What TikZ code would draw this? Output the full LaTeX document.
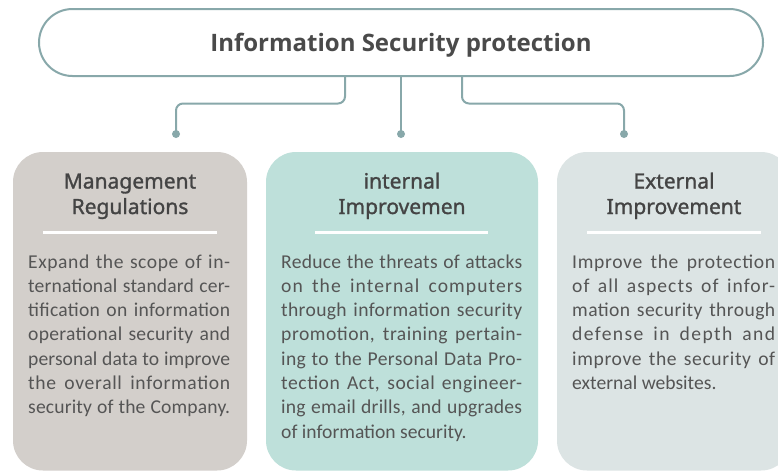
\documentclass[tikz,border=0pt]{standalone}
\usepackage{fontspec}
\setmainfont{Carlito}
\newfontfamily\titlefont{Open Sans}
\newfontfamily\headfont{Noto Sans}[FakeBold=1.3]
\usetikzlibrary{calc}
\definecolor{linec}{HTML}{88A8AA}
\definecolor{cardA}{HTML}{D3CFCB}
\definecolor{cardB}{HTML}{BEE0DA}
\definecolor{cardC}{HTML}{DCE4E4}
\definecolor{titc}{HTML}{4A4A4A}
\definecolor{headc}{HTML}{444444}
\definecolor{bodyc}{HTML}{555555}
\ExplSyntaxOn
\NewDocumentCommand\jline{m}{
  \setbox0\hbox{#1}
  \edef\mylsval{\fp_eval:n{max(0,0.8*(\dim_to_fp:n{\linewidth}-\dim_to_fp:n{\wd0})/(\str_count:n{#1})/19.6*100)}}
  \makebox[\linewidth][s]{\addfontfeature{LetterSpace=\mylsval}#1}\par}
\ExplSyntaxOff
\newcommand\lline[1]{\makebox[\linewidth][l]{#1}\par}
\newcommand\bodyfont{\fontsize{19.6}{24.3}\selectfont}
\newcommand\headsize{\headfont\fontsize{21}{25.5}\selectfont}
\begin{document}
\begin{tikzpicture}[x=1pt,y=-1pt,
  conn/.style={draw=linec, line width=2pt},
  dotnode/.style={circle, fill=linec, inner sep=0pt, minimum size=8pt},
  card/.style={rounded corners=30pt, inner sep=0pt, minimum height=318.5pt},
  sepline/.style={draw=white, line width=2.5pt},
  headtxt/.style={anchor=base, inner sep=0pt, text=headc},
  bodytxt/.style={anchor=base west, inner sep=0pt, text=bodyc}]
\useasboundingbox (0,0) rectangle (778,472);
\clip (0,0) rectangle (778,472);
\fill[white] (0,0) rectangle (778,472);

% top pill
\node[draw=linec, line width=2pt, rounded corners=33.5pt, minimum width=724pt, minimum height=67pt, inner sep=0pt] (top) at (401,42.5) {};
\node[anchor=base, inner sep=0pt, text=titc, font=\titlefont\bfseries\fontsize{24}{28}\selectfont] (ttl) at (401,51.7) {Information Security protection};

% cards
\node[card, fill=cardA, minimum width=234pt] (m1) at (130,311.25) {};
\node[card, fill=cardB, minimum width=272pt] (m2) at (402,311.25) {};
\node[card, fill=cardC, minimum width=234pt] (m3) at (674,311.25) {};

% dots and connectors
\node[dotnode] (d1) at (176,134) {};
\node[dotnode] (d2) at (401,134) {};
\node[dotnode] (d3) at (624,134) {};
\draw[conn, rounded corners=7pt] ($(top.south)+(-56,0)$) -- ($(top.south)+(-56,26.5)$) -| (d1.center);
\draw[conn] (top.south) -- (d2.center);
\draw[conn, rounded corners=7pt] ($(top.south)+(61,0)$) -- ($(top.south)+(61,26.5)$) -| (d3.center);

% headings
\node[headtxt] (h1) at (130,188.5) {\parbox[t]{220pt}{\centering\headsize Management\\Regulations}};
\node[headtxt] (h2) at (402,188.5) {\parbox[t]{250pt}{\centering\headsize internal\\Improvemen}};
\node[headtxt] (h3) at (674,188.5) {\parbox[t]{220pt}{\centering\headsize External\\Improvement}};

% separators
\draw[sepline] ($(m1.north west)+(30,80.5)$) -- ($(m1.north east)+(-30,80.5)$);
\draw[sepline] ($(m2.north west)+(49,80.5)$) -- ($(m2.north east)+(-50,80.5)$);
\draw[sepline] ($(m3.north west)+(30,80.5)$) -- ($(m3.north east)+(-30,80.5)$);

% body texts
\node[bodytxt] (t1) at (28,268) {\parbox[t]{202pt}{\bodyfont
\jline{Expand the scope of in-}
\jline{ternational standard cer-}
\jline{tification on information}
\jline{operational security and}
\jline{personal data to improve}
\jline{the overall information}
\jline{security of the Company.}}};
\node[bodytxt] (t2) at (281,268) {\parbox[t]{241pt}{\bodyfont
\jline{Reduce the threats of attacks}
\jline{on the internal computers}
\jline{through information security}
\jline{promotion, training pertain-}
\jline{ing to the Personal Data Pro-}
\jline{tection Act, social engineer-}
\jline{ing email drills, and upgrades}
\lline{of information security.}}};
\node[bodytxt] (t3) at (572,268) {\parbox[t]{203pt}{\bodyfont
\jline{Improve the protection}
\jline{of all aspects of infor-}
\jline{mation security through}
\jline{defense in depth and}
\jline{improve the security of}
\lline{external websites.}}};
\end{tikzpicture}
\end{document}
